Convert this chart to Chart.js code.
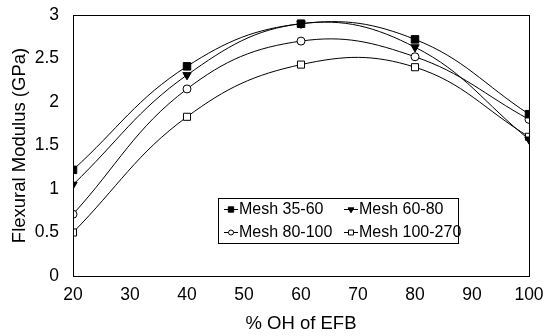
<!DOCTYPE html>
<html>
<head>
<meta charset="utf-8">
<script src="https://cdn.jsdelivr.net/npm/chart.js@4.4.0/dist/chart.umd.min.js"></script>
<style>
  html, body { margin: 0; padding: 0; background: #fff; }
  #wrap { width: 544px; height: 336px; }
</style>
</head>
<body>
<div id="wrap"><canvas id="modulusChart" width="544" height="336"></canvas></div>
<script>
// % OH of EFB vs flexural modulus, four mesh sizes
const ohPercent = [20, 40, 60, 80, 100];
const mesh35_60 = [1.22, 2.41, 2.90, 2.72, 1.86];
const mesh60_80 = [1.05, 2.31, 2.90, 2.63, 1.57];
const mesh80_100 = [0.71, 2.15, 2.70, 2.52, 1.80];
const mesh100_270 = [0.50, 1.83, 2.43, 2.40, 1.60];
const seriesNames = ['Mesh 35-60', 'Mesh 60-80', 'Mesh 80-100', 'Mesh 100-270'];

const FONT = 'Liberation Sans, Arial, sans-serif';

function toPoints(vals) {
  return ohPercent.map((x, i) => ({ x, y: vals[i] }));
}

function makeSet(label, vals, style, fill, radius, rotation) {
  return {
    label,
    data: toPoints(vals),
    borderColor: '#000',
    borderWidth: 1,
    tension: 0.4,
    pointStyle: style,
    pointRadius: radius,
    pointRotation: rotation || 0,
    pointBackgroundColor: fill,
    pointBorderColor: '#000',
    pointBorderWidth: 1,
    fill: false
  };
}

// frame round the plot area + legend box inside it
const framePlugin = {
  id: 'frame',
  afterDatasetsDraw(chart) {
    const { ctx, chartArea: a } = chart;
    ctx.save();
    ctx.strokeStyle = '#000';
    ctx.lineWidth = 1;
    ctx.strokeRect(Math.round(a.left) + 0.5, Math.round(a.top) + 0.5,
      Math.round(a.right - a.left), Math.round(a.bottom - a.top));

    // legend
    const bx = 218, by = 198, bw = 240, bh = 45;
    ctx.fillStyle = '#fff';
    ctx.fillRect(bx, by, bw, bh);
    ctx.strokeRect(bx + 0.5, by + 0.5, bw, bh);
    const cols = [224, 344];
    const rows = [209, 232];
    ctx.font = '16px ' + FONT;
    ctx.textBaseline = 'middle';
    chart.data.datasets.forEach((ds, i) => {
      const x = cols[i % 2], y = rows[Math.floor(i / 2)];
      ctx.strokeStyle = '#000';
      ctx.beginPath();
      ctx.moveTo(x, y + 0.5);
      ctx.lineTo(x + 14, y + 0.5);
      ctx.stroke();
      ctx.fillStyle = ds.pointBackgroundColor;
      Chart.helpers.drawPoint(ctx, {
        pointStyle: ds.pointStyle,
        radius: ds.pointRadius - 1.5,
        rotation: ds.pointRotation,
        borderWidth: 1
      }, x + 7, y + 0.5);
      ctx.fillStyle = '#000';
      ctx.fillText(ds.label, x + 15, y + 1);
    });
    ctx.restore();
  }
};

new Chart(document.getElementById('modulusChart'), {
  type: 'line',
  data: {
    datasets: [
      makeSet(seriesNames[0], mesh35_60, 'rect', '#000', 5.3),
      makeSet(seriesNames[1], mesh60_80, 'triangle', '#000', 4.8, 180),
      makeSet(seriesNames[2], mesh80_100, 'circle', '#fff', 4),
      makeSet(seriesNames[3], mesh100_270, 'rect', '#fff', 5)
    ]
  },
  options: {
    responsive: false,
    animation: false,
    layout: { padding: { top: 15, right: 15, left: 0, bottom: 0 } },
    plugins: { legend: { display: false }, tooltip: { enabled: false } },
    scales: {
      x: {
        type: 'linear',
        min: 20, max: 100,
        grid: { display: false, tickLength: 9 },
        border: { display: false },
        ticks: { stepSize: 10, color: '#000', font: { family: FONT, size: 17.5 }, padding: 0 },
        title: { display: true, text: '% OH of EFB', color: '#000', font: { family: FONT, size: 18.5 }, padding: { top: 0, bottom: 1 } },
        afterFit(scale) { scale.height = 60; }
      },
      y: {
        min: 0, max: 3,
        grid: { display: false, tickLength: 14 },
        border: { display: false },
        ticks: {
          stepSize: 0.5, color: '#000', font: { family: FONT, size: 17.5 }, padding: 0,
          callback: v => String(v)
        },
        title: { display: true, text: 'Flexural Modulus (GPa)', color: '#000', font: { family: FONT, size: 18.5 }, padding: { top: 9, bottom: 0 } },
        afterFit(scale) { scale.width = 73; }
      }
    }
  },
  plugins: [framePlugin]
});
</script>
</body>
</html>
